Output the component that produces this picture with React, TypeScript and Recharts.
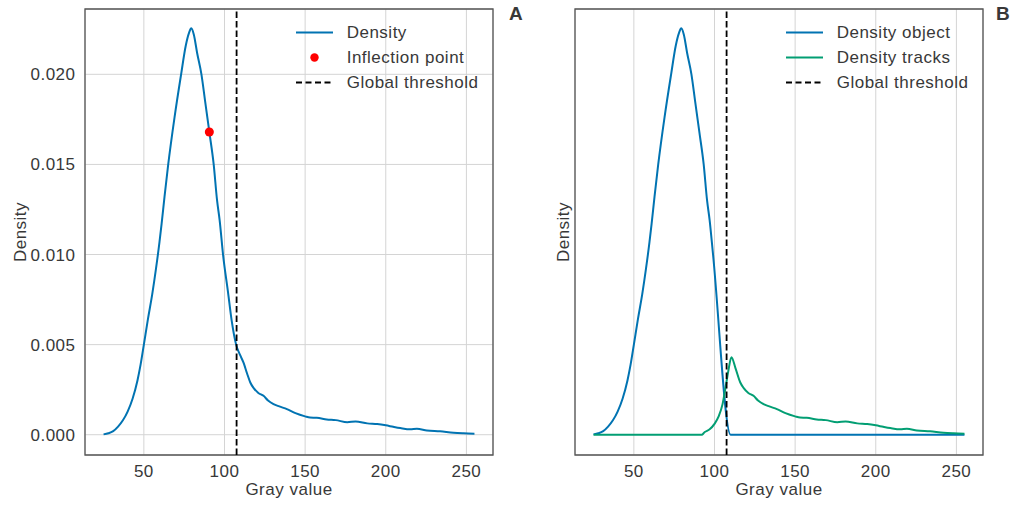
import React from "react";
import {
  ComposedChart,
  LineChart,
  Line,
  Scatter,
  XAxis,
  YAxis,
  CartesianGrid,
  ReferenceLine,
  ReferenceArea,
  Legend,
} from "recharts";

// density of the object gray values (panel A, and left part of panel B)
const GRAY = [
  25, 28, 31, 34, 37, 40, 43, 46, 48, 50,
  52.5, 55.2, 57.5, 59.7, 61, 62.8, 65.1, 69, 73.1, 76,
  78, 79.4, 81, 83, 85.7, 88, 90.6, 93.3, 95.4, 97,
  99.1, 102.2, 104.5, 107.2, 109.8, 111.8, 114, 116, 118, 121,
  124.2, 127, 130.4, 134, 138.7, 144, 150, 153, 157.2, 163.4,
  169, 176.2, 181.3, 188.5, 194.7, 200, 204.6, 209, 215.2, 219.3,
  225.5, 233.7, 242, 248.2, 255,
];
const DENSITY = [
  0.00002, 0.00008, 0.0002, 0.00045, 0.0008, 0.0013, 0.002, 0.003, 0.0039, 0.005,
  0.0064, 0.0078, 0.0092, 0.0107, 0.0117, 0.0132, 0.015, 0.0176, 0.02, 0.0216,
  0.0223, 0.02255, 0.0222, 0.0212, 0.02, 0.0185, 0.0168, 0.015, 0.013, 0.0119,
  0.01, 0.0079, 0.0063, 0.005, 0.0044, 0.004, 0.0034, 0.0029, 0.0026, 0.00232,
  0.00216, 0.0019, 0.0017, 0.00157, 0.00142, 0.0012, 0.00102, 0.00095, 0.00094, 0.00085,
  0.00081, 0.00069, 0.00074, 0.00063, 0.00059, 0.00052, 0.00044, 0.00037, 0.0003, 0.00033,
  0.00024, 0.00019, 0.00011, 0.00008, 0.00006,
];

const INFLECTION_GRAY = [90.6];
const INFLECTION_DENSITY = [0.0168];
const THRESHOLD = 107.5;

// panel B: object density cut at the threshold
const OBJECT_GRAY = [...GRAY.slice(0, 31), 110, 255];
const OBJECT_DENSITY = [...DENSITY.slice(0, 31), 0, 0];

// panel B: tracks density
const TRACK_GRAY = [25, 92, 94, 97, 100, 102.5, 105, 107, 108.5, 110.5, 113, ...GRAY.slice(37)];
const TRACK_DENSITY = [0, 0, 0.00015, 0.0003, 0.0006, 0.001, 0.0017, 0.0027, 0.0035, 0.0043, 0.0037, ...DENSITY.slice(37)];

const X_TICKS = [50, 100, 150, 200, 250];
const Y_TICKS = [0, 0.005, 0.01, 0.015, 0.02];
const X_DOMAIN: [number, number] = [13.5, 266.5];
const Y_DOMAIN: [number, number] = [-0.001125, 0.023625];

const BLUE = "#0173b2";
const GREEN = "#029e73";
const TEXT = "#383838";
const GRID = "#d4d4d4";
const FONT = '"Liberation Sans", Arial, sans-serif';

const zip = (xs: number[], ys: number[]) => xs.map((x, i) => ({ x, y: ys[i] }));

type Item = { label: string; kind: "line" | "dot" | "dash"; color: string };

function LegendBox({ items }: { items: Item[] }) {
  return (
    <div style={{ fontFamily: FONT, fontSize: 17, letterSpacing: 0.5, color: TEXT }}>
      {items.map((it) => (
        <div key={it.label} style={{ display: "flex", alignItems: "center", height: 25 }}>
          <svg width={43} height={25} style={{ flex: "none" }}>
            {it.kind === "dot" ? (
              <circle cx={24.5} cy={12.5} r={4.2} fill={it.color} />
            ) : (
              <line x1={6} x2={43} y1={12.5} y2={12.5} stroke={it.color} strokeWidth={2}
                strokeDasharray={it.kind === "dash" ? "6 3.5" : undefined} />
            )}
          </svg>
          <span style={{ marginLeft: 13.7, whiteSpace: "nowrap" }}>{it.label}</span>
        </div>
      ))}
    </div>
  );
}

const margin = { top: 9, right: 7, bottom: 0, left: 0 };
const tickStyle = { fill: TEXT, fontSize: 17, letterSpacing: 0.5 };

function axes(showY: boolean, labelOffset: number) {
  return [
    <CartesianGrid key="g" stroke={GRID} strokeWidth={1} />,
    <XAxis key="x" type="number" dataKey="x" domain={X_DOMAIN} ticks={X_TICKS} allowDataOverflow
      height={51} tickLine={false} axisLine={false} tickSize={6} tickMargin={4} tick={tickStyle}
      label={{ value: "Gray value", position: "insideBottom", offset: 11, fill: TEXT, fontSize: 17, letterSpacing: 0.5 }} />,
    <YAxis key="y" type="number" dataKey="y" domain={Y_DOMAIN} ticks={Y_TICKS} allowDataOverflow
      width={85} tickLine={false} axisLine={false} tickSize={6} tickMargin={3.5}
      tick={showY ? tickStyle : false} tickFormatter={(v: number) => v.toFixed(3)}
      label={{ value: "Density", angle: -90, position: "insideLeft", offset: labelOffset, fill: TEXT, fontSize: 17, letterSpacing: 0.5, style: { textAnchor: "middle" } }} />,
    <ReferenceArea key="frame" x1={X_DOMAIN[0]} x2={X_DOMAIN[1]} y1={Y_DOMAIN[0]} y2={Y_DOMAIN[1]}
      fill="none" stroke="#555" strokeWidth={1.3} ifOverflow="visible" />,
  ];
}

const legendWrap = { top: 20, left: 290, width: 210 };

export default function App() {
  const density = zip(GRAY, DENSITY);
  const inflection = zip(INFLECTION_GRAY, INFLECTION_DENSITY);
  const object = zip(OBJECT_GRAY, OBJECT_DENSITY);
  const tracks = zip(TRACK_GRAY, TRACK_DENSITY);

  return (
    <div style={{ position: "absolute", left: 0, top: 0, width: 1015, height: 506, background: "#fff", fontFamily: FONT }}>
      <div style={{ position: "absolute", left: 0, top: 0 }}>
        <ComposedChart width={500} height={506} margin={margin}>
          {axes(true, 20)}
          <Line data={density} dataKey="y" type="monotone" stroke={BLUE} strokeWidth={2} dot={false} isAnimationActive={false} />
          <Scatter data={inflection} dataKey="y" fill="#ff0000" isAnimationActive={false} />
          <ReferenceLine x={THRESHOLD} stroke="#000" strokeWidth={1.8} strokeDasharray="6.5 3" />
          <Legend layout="horizontal" verticalAlign="middle" align="center" wrapperStyle={legendWrap}
            content={<LegendBox items={[
              { label: "Density", kind: "line", color: BLUE },
              { label: "Inflection point", kind: "dot", color: "#ff0000" },
              { label: "Global threshold", kind: "dash", color: "#000" },
            ]} />} />
        </ComposedChart>
      </div>
      <div style={{ position: "absolute", left: 490, top: 0 }}>
        <LineChart width={500} height={506} margin={margin}>
          {axes(false, 72.5)}
          <Line data={object} dataKey="y" type="monotone" stroke={BLUE} strokeWidth={2} dot={false} isAnimationActive={false} />
          <Line data={tracks} dataKey="y" type="monotone" stroke={GREEN} strokeWidth={2} dot={false} isAnimationActive={false} />
          <ReferenceLine x={THRESHOLD} stroke="#000" strokeWidth={1.8} strokeDasharray="6.5 3" />
          <Legend layout="horizontal" verticalAlign="middle" align="center" wrapperStyle={legendWrap}
            content={<LegendBox items={[
              { label: "Density object", kind: "line", color: BLUE },
              { label: "Density tracks", kind: "line", color: GREEN },
              { label: "Global threshold", kind: "dash", color: "#000" },
            ]} />} />
        </LineChart>
      </div>
      <div style={{ position: "absolute", left: 509, top: 4, fontSize: 19, lineHeight: 1, fontWeight: 700, color: TEXT }}>A</div>
      <div style={{ position: "absolute", left: 996, top: 4, fontSize: 19, lineHeight: 1, fontWeight: 700, color: TEXT }}>B</div>
    </div>
  );
}
